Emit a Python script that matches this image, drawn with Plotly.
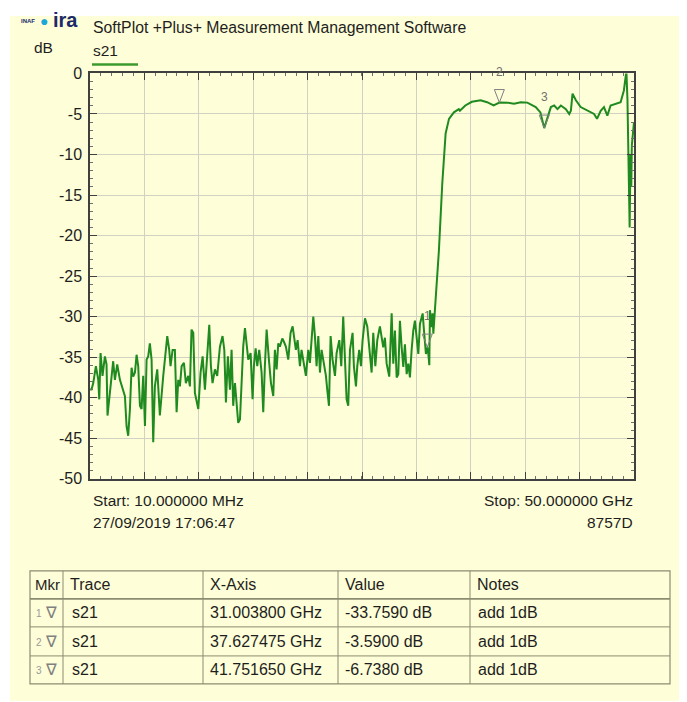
import plotly.graph_objects as go

# s21 trace (GHz, dB)
freq_ghz = [
    0.01, 0.15, 0.31, 0.55, 0.77, 0.86, 0.98, 1.16, 1.38, 1.53, 1.62, 1.84, 2.14, 2.30, 2.51,
    2.76, 3.00, 3.22, 3.37, 3.52, 3.68, 3.83, 3.98, 4.14, 4.29, 4.44, 4.60, 4.75, 4.90, 5.06,
    5.21, 5.36, 5.51, 5.67, 5.82, 5.97, 6.19, 6.43, 6.74, 6.99, 7.11, 7.29, 7.41, 7.60, 7.81,
    7.97, 8.12, 8.27, 8.43, 8.64, 8.82, 9.04, 9.19, 9.34, 9.50, 9.65, 9.80, 9.96, 10.17, 10.36,
    10.57, 10.78, 10.97, 11.12, 11.27, 11.49, 11.70, 11.95, 12.19, 12.35, 12.50, 12.68, 12.87,
    13.02, 13.17, 13.33, 13.48, 13.63, 13.79, 13.94, 14.09, 14.25, 14.40, 14.55, 14.77, 14.95,
    15.07, 15.23, 15.38, 15.56, 15.78, 15.93, 16.08, 16.24, 16.45, 16.64, 16.85, 17.00, 17.16,
    17.31, 17.46, 17.68, 17.83, 18.01, 18.23, 18.44, 18.63, 18.78, 18.93, 19.09, 19.30, 19.45,
    19.61, 19.85, 20.07, 20.22, 20.37, 20.53, 20.68, 20.83, 20.99, 21.14, 21.29, 21.51, 21.69,
    21.81, 21.97, 22.12, 22.30, 22.52, 22.67, 22.92, 23.10, 23.28, 23.44, 23.59, 23.74, 23.90,
    24.14, 24.26, 24.45, 24.57, 24.75, 24.91, 25.06, 25.28, 25.49, 25.67, 25.89, 26.04, 26.23,
    26.41, 26.65, 26.96, 27.11, 27.27, 27.51, 27.73, 27.88, 28.03, 28.19, 28.34, 28.49, 28.65,
    28.80, 28.95, 29.11, 29.26, 29.41, 29.56, 29.72, 29.87, 30.02, 30.18, 30.33, 30.58, 30.70,
    30.88, 31.00, 31.10, 31.19, 31.25, 31.40, 31.49, 31.56, 31.71, 31.86, 32.07, 32.38, 32.69,
    33.00, 33.45, 33.90, 34.00, 34.50, 35.10, 35.90, 36.50, 37.10, 37.63, 38.40, 38.98, 39.60,
    40.20, 40.97, 41.40, 41.75, 42.06, 42.36, 42.67, 42.97, 43.28, 43.74, 44.05, 44.20, 44.35,
    44.66, 45.10, 45.70, 46.33, 46.60, 46.94, 47.24, 47.55, 47.85, 48.30, 48.77, 49.07, 49.20,
    49.30, 49.40, 49.50, 49.60, 49.68, 49.75, 49.80, 49.90, 50.00,
]
s21_db = [
    -39.0, -39.0, -38.2, -36.1, -37.8, -40.2, -34.5, -37.3, -34.9, -35.9, -42.2, -39.0, -35.5, -37.8, -35.9,
    -37.8, -39.0, -39.8, -43.5, -44.7, -41.4, -36.3, -37.4, -36.9, -34.7, -36.1, -41.0, -41.4, -37.3, -43.5,
    -35.3, -34.9, -33.3, -35.3, -45.5, -38.6, -36.5, -42.2, -37.3, -34.1, -32.4, -34.1, -36.1, -34.1, -34.1,
    -41.8, -37.8, -38.6, -36.1, -35.7, -38.2, -37.3, -38.6, -31.6, -32.0, -39.4, -40.2, -41.4, -36.9, -34.9,
    -39.0, -34.9, -31.0, -36.1, -38.2, -36.5, -37.3, -33.7, -32.4, -34.1, -40.6, -34.9, -39.0,
    -34.1, -41.0, -38.2, -41.0, -43.1, -42.7, -38.2, -33.7, -31.4, -33.3, -35.3, -34.5, -40.2,
    -36.1, -33.9, -36.1, -34.1, -36.9, -41.8, -36.1, -31.6, -35.3, -38.2, -39.8, -34.1, -36.5,
    -33.3, -33.7, -32.7, -33.1, -33.7, -35.3, -32.0, -31.2, -32.4, -34.1, -32.9, -36.1, -34.1,
    -35.3, -37.3, -34.1, -35.7, -32.9, -30.0, -32.4, -36.1, -32.4, -36.9, -34.1, -35.7, -37.3,
    -39.0, -41.0, -32.4, -35.3, -37.3, -34.5, -32.9, -36.1, -30.0, -35.3, -40.2, -41.0, -34.1,
    -32.0, -36.1, -38.6, -36.1, -34.1, -36.1, -32.9, -30.2, -31.2, -34.1, -36.9, -32.0, -36.1,
    -32.9, -31.2, -33.8, -32.6, -35.8, -37.4, -29.6, -35.8, -31.7, -37.5, -37.1, -30.5, -33.8,
    -36.2, -33.4, -37.1, -35.8, -37.5, -34.2, -31.7, -30.5, -32.5, -34.6, -30.9, -29.6, -31.7,
    -34.6, -33.8, -34.6, -36.0, -29.2, -31.3, -29.6, -32.1, -29.2, -25.3, -21.9, -13.6, -7.4,
    -5.6, -4.8, -4.4, -4.6, -3.95, -3.5, -3.3, -3.55, -3.95, -3.59, -3.6, -3.75, -3.55,
    -3.6, -4.15, -4.8, -6.74, -5.55, -4.15, -3.95, -4.4, -3.95, -4.4, -5.0, -4.6, -2.5,
    -3.3, -4.15, -4.6, -5.0, -5.6, -4.6, -4.15, -5.2, -3.95, -3.75, -3.55, -2.1, -0.45,
    0.3, -3.3, -11.6, -19.0, -10.0, -14.0, -8.9, -7.4, -6.0,
]

y_tick_vals = [0, -5, -10, -15, -20, -25, -30, -35, -40, -45, -50]
y_tick_text = ["0", "-5", "-10", "-15", "-20", "-25", "-30", "-35", "-40", "-45", "-50"]

# marker table
mkr_ids = ["1", "2", "3"]
mkr_freq = [31.0038, 37.627475, 41.75165]
mkr_value = [-33.759, -3.59, -6.738]
mkr_x_text = ["31.003800 GHz", "37.627475 GHz", "41.751650 GHz"]
mkr_v_text = ["-33.7590 dB", "-3.5900 dB", "-6.7380 dB"]
mkr_notes = ["add 1dB", "add 1dB", "add 1dB"]
table_header = ["Mkr", "Trace", "X-Axis", "Value", "Notes"]

W, H = 687, 702
# screen position -> figure position (page margin and the way the page gets photographed)
OFF_X, OFF_Y, SY = 8, 16, 0.975
BG = "#FEFED8"
FONT = "Liberation Sans, Arial, sans-serif"
INK = "#1e1e1e"
GREEN = "#1f8a1f"
TBL = "#8c8c72"


def px(x):
    return (x - OFF_X) / W


def py(y):
    return 1 - (y / SY - OFF_Y) / H


fig = go.Figure()
fig.add_trace(go.Scatter(x=freq_ghz, y=s21_db, mode="lines",
                         line=dict(color=GREEN, width=2), hoverinfo="skip"))

shapes = []
ann = []

# panel background
shapes.append(dict(type="rect", xref="paper", yref="paper", x0=px(10), x1=px(681),
                   y0=0, y1=1, fillcolor=BG, line=dict(width=0), layer="below"))

# chart markers
for mid, f, v in zip(mkr_ids, mkr_freq, mkr_value):
    shapes.append(dict(type="path", xref="x", yref="y", xsizemode="pixel", ysizemode="pixel",
                       xanchor=f, yanchor=v, path="M -5,13 L 5,13 L 0,0 Z",
                       line=dict(color="#808080", width=1), fillcolor="rgba(0,0,0,0)"))
    ann.append(dict(x=f, y=v, xref="x", yref="y", text=mid, showarrow=False,
                    yshift=31, font=dict(size=12, color="#707070", family=FONT)))


def label(x, y, text, size=15, anchor="left", color=INK, **kw):
    ann.append(dict(x=px(x), y=py(y), xref="paper", yref="paper", text=text,
                    showarrow=False, xanchor=anchor, yanchor="middle",
                    font=dict(size=size, color=color, family=FONT), **kw))


label(91, 27, "SoftPlot +Plus+ Measurement Management Software", size=15.8)
label(43, 47, "dB", size=15.5, anchor="center")
label(91, 50, "s21", size=15.5)
shapes.append(dict(type="line", xref="paper", yref="paper", x0=px(92), x1=px(138),
                   y0=py(64), y1=py(64), line=dict(color="#3c9a2c", width=2.5)))

# logo
label(19, 21, "<b>INAF</b>", size=6, color="#1b2a6b")
label(38, 21, "●", size=14, color="#1fa6d9")
label(51, 20, "<b>ira</b>", size=20, color="#1b2a6b")

label(91, 500, "Start: 10.000000 MHz", size=15.5)
label(91, 522, "27/09/2019 17:06:47", size=15.5)
label(635, 500, "Stop: 50.000000 GHz", size=15.5, anchor="right")
label(635, 522, "8757D", size=15.5, anchor="right")

# marker table
col_x = [30, 63, 203, 338, 470, 670]
row_y = [570, 598, 626, 655, 683]
shapes.append(dict(type="rect", xref="paper", yref="paper", x0=px(col_x[0]), x1=px(col_x[-1]),
                   y0=py(row_y[-1]), y1=py(row_y[0]), line=dict(color=TBL, width=1.2)))
for cx in col_x[1:-1]:
    shapes.append(dict(type="line", xref="paper", yref="paper", x0=px(cx), x1=px(cx),
                       y0=py(row_y[-1]), y1=py(row_y[0]), line=dict(color=TBL, width=1)))
for i, ry in enumerate(row_y[1:-1]):
    shapes.append(dict(type="line", xref="paper", yref="paper", x0=px(col_x[0]), x1=px(col_x[-1]),
                       y0=py(ry), y1=py(ry), line=dict(color=TBL, width=1.8 if i == 0 else 1)))


def row_mid(i):
    return (row_y[i] + row_y[i + 1]) / 2


for j, h in enumerate(table_header):
    label(col_x[j] + (3 if j == 0 else 5), row_mid(0), h, size=15 if j == 0 else 16)
for i in range(len(mkr_ids)):
    ym = row_mid(i + 1)
    label(col_x[0] + 4, ym + 1, mkr_ids[i], size=10, color="#9a9a9a")
    label(col_x[0] + 13, ym, "∇", size=16, color="#808080")
    label(col_x[1] + 7, ym, "s21", size=16)
    label(col_x[2] + 5, ym, mkr_x_text[i], size=16)
    label(col_x[3] + 5, ym, mkr_v_text[i], size=16)
    label(col_x[4] + 6, ym, mkr_notes[i], size=16)

axis_common = dict(showline=True, linecolor="#404040", linewidth=1.5, mirror="ticks",
                   ticks="inside", ticklen=7, tickcolor="#404040", tickwidth=1.2,
                   showgrid=True, gridcolor="#d2d2c2", gridwidth=1, zeroline=False)

fig.update_layout(
    width=W, height=H,
    margin=dict(l=0, r=0, t=0, b=0),
    paper_bgcolor="white",
    plot_bgcolor=BG,
    showlegend=False,
    shapes=shapes,
    annotations=ann,
    xaxis=dict(domain=[px(90), px(634)], range=[0.01, 50], tick0=0.01, dtick=4.999,
               showticklabels=False,
               minor=dict(ticks="inside", ticklen=3, dtick=0.9998, tickcolor="#707070",
                          showgrid=False),
               **axis_common),
    yaxis=dict(domain=[py(478), py(73)], range=[-50, 0],
               tickvals=y_tick_vals, ticktext=y_tick_text,
               tickfont=dict(size=16, color=INK, family=FONT), ticklabelstandoff=3,
               minor=dict(ticks="inside", ticklen=3, dtick=1, tickcolor="#707070",
                          showgrid=False),
               **axis_common),
)

fig.write_html("out.html")
